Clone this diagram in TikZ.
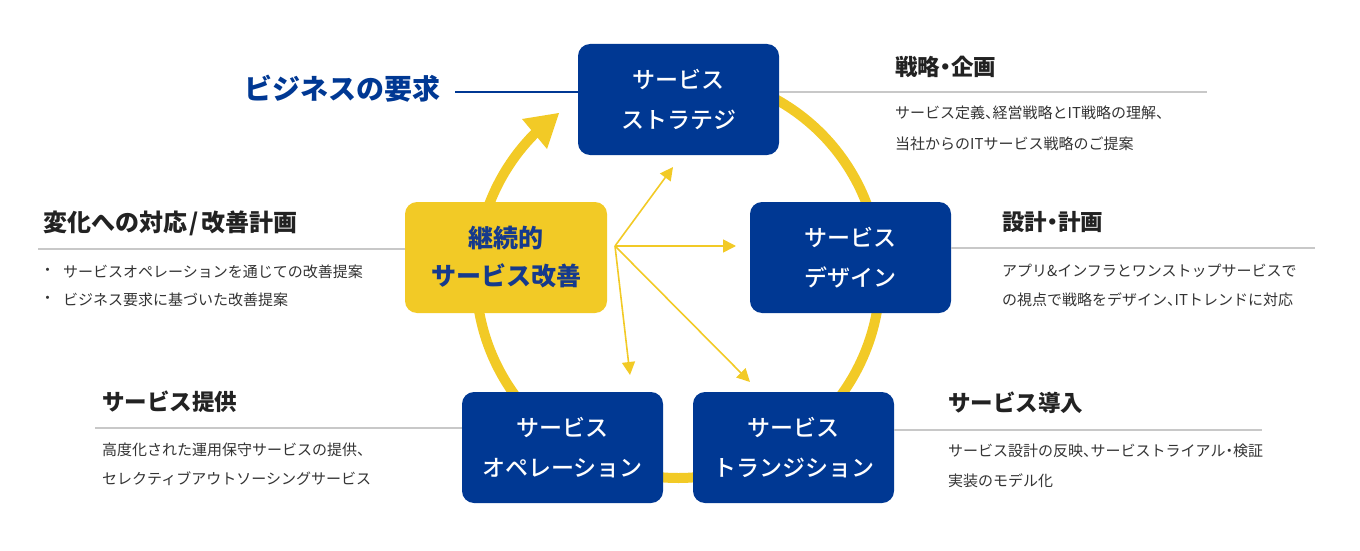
\documentclass[tikz,border=0pt]{standalone}
\usepackage{fontspec}
\newfontfamily\jp{Noto Sans CJK JP}
\newfontfamily\jpm{Noto Sans CJK JP Medium}
\usetikzlibrary{arrows.meta,calc}
\definecolor{navy}{RGB}{0,56,147}
\definecolor{gold}{RGB}{242,202,38}
\definecolor{rulegray}{RGB}{200,200,200}
\definecolor{ink}{RGB}{34,34,34}
\definecolor{bodyink}{RGB}{51,51,51}
\definecolor{improveink}{RGB}{22,58,140}
\newcommand\nc[1]{\makebox[0.5em][l]{#1}}
\newcommand\nd[1]{\makebox[0.5em][c]{#1}}
\begin{document}
\begin{tikzpicture}[x=1pt,y=-1pt,
  svcbox/.style={fill=navy, rounded corners=12pt, minimum width=201pt, minimum height=111pt,
     text=white, font=\jpm\fontsize{23}{40}\selectfont, align=center, inner sep=0pt},
  improvebox/.style={fill=gold, rounded corners=12pt, minimum width=202pt, minimum height=111pt,
     text=improveink, font=\jp\bfseries\fontsize{25}{38}\selectfont, align=center, inner sep=0pt},
  ring/.style={gold, line width=10pt},
  hubarrow/.style={gold, line width=1.6pt, -{Triangle[length=13pt,width=13pt]}},
  grayline/.style={rulegray, line width=1.5pt},
  heading/.style={anchor=west, inner sep=0pt, text=ink, font=\jp\bfseries\fontsize{22.5}{27}\selectfont},
  desc/.style={anchor=west, inner sep=0pt, text=bodyink, font=\jp\fontsize{15}{18}\selectfont},
]
\useasboundingbox (0,0) rectangle (1360,551);

% ring
\coordinate (c) at (678,276);
\draw[ring] ($(c)+(250:202)$) arc[start angle=250, end angle=540, radius=202];
\draw[ring] ($(c)+(180:202)$) arc[start angle=180, end angle=225.5, radius=202];
\fill[gold] (559,113) -- (522,119) -- (547,149) -- cycle;

% boxes
\node[svcbox] (strategy) at (678.5,99.5) {サービス\\ストラテジ};
\node[svcbox] (design) at (850.5,257.5) {サービス\\デザイン};
\node[svcbox] (transition) at (793.5,447.5) {サービス\\トランジション};
\node[svcbox] (operation) at (562.5,447.5) {サービス\\オペレーション};
\node[improvebox] (improve) at (506,257.5) {継続的\\サービス改善};

% hub arrows
\coordinate (hub) at (615,246);
\coordinate (t1) at (673,167);
\coordinate (t2) at (736,246);
\coordinate (t3) at (630,375);
\coordinate (t4) at (750,382);
\draw[hubarrow] (hub) -- (t1);
\draw[hubarrow] (hub) -- (t2);
\draw[hubarrow] (hub) -- (t3);
\draw[hubarrow] (hub) -- (t4);

% business requirement
\node[anchor=east, inner sep=0pt, text=navy, font=\jp\bfseries\fontsize{28}{32}\selectfont] (biz) at (441,89) {ビジネスの要求};
\coordinate (b1) at (455,92);
\draw[navy, line width=1.6pt] (b1) -- (b1 -| strategy.west);

% gray rules
\coordinate (g1) at (1207,92);
\draw[grayline] (g1 -| strategy.east) -- (g1);
\coordinate (g2) at (1315,248);
\draw[grayline] (g2 -| design.east) -- (g2);
\coordinate (g3) at (1262,430);
\draw[grayline] (g3 -| transition.east) -- (g3);
\coordinate (g4) at (38,249);
\draw[grayline] (g4) -- (g4 -| improve.west);
\coordinate (g5) at (95,428);
\draw[grayline] (g5) -- (g5 -| operation.west);

% strategy texts
\node[heading] (h1) at (895,67) {戦略\nd{・}企画};
\node[desc] (d1a) at (895,113) {サービス定義\nc{、}経営戦略とIT戦略の理解、};
\node[desc] (d1b) at (895,144) {当社からのITサービス戦略のご提案};

% design texts
\node[heading] (h2) at (1002,222) {設計\nd{・}計画};
\node[desc] (d2a) at (1002,271) {アプリ\&インフラとワンストップサービスで};
\node[desc] (d2b) at (1002,300) {の視点で戦略をデザイン\nc{、}ITトレンドに対応};

% improvement texts
\node[heading, font=\jp\bfseries\fontsize{24}{28}\selectfont] (h3) at (43,223) {変化への対応\hspace{0.1em}/\hspace{0.1em}改善計画};
\node[desc] (d3ab) at (40,272) {・};
\node[desc] (d3a) at (63,272) {サービスオペレーションを通じての改善提案};
\node[desc] (d3bb) at (40,300) {・};
\node[desc] (d3b) at (63,300) {ビジネス要求に基づいた改善提案};

% operation texts
\node[heading] (h4) at (102,402) {サービス提供};
\node[desc] (d4a) at (102,450) {高度化された運用保守サービスの提供、};
\node[desc] (d4b) at (102,479) {セレクティブアウトソーシングサービス};

% transition texts
\node[heading] (h5) at (948,403) {サービス導入};
\node[desc] (d5a) at (948,451) {サービス設計の反映\nc{、}サービストライアル\nd{・}検証};
\node[desc] (d5b) at (948,481) {実装のモデル化};
\end{tikzpicture}
\end{document}
